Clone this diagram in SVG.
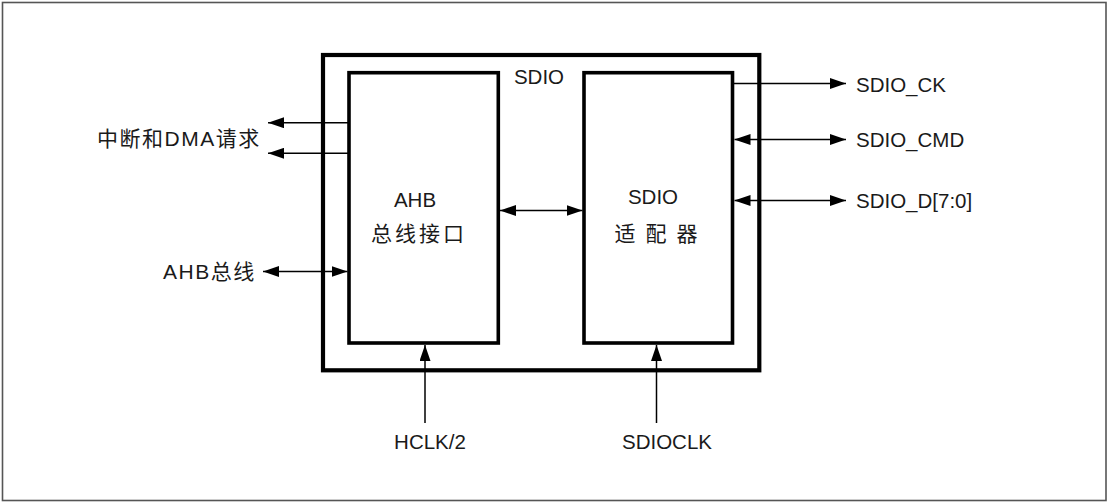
<svg xmlns="http://www.w3.org/2000/svg" width="1109" height="503" viewBox="0 0 1109 503">
<style>
.t{font-family:"Liberation Sans","Noto Sans CJK SC",sans-serif;font-size:20.5px;fill:#1a1a1a}
.c{font-family:"Liberation Sans","Noto Sans CJK SC",sans-serif;font-size:21px;fill:#1a1a1a}
.box{fill:none;stroke:#000;stroke-width:3.6}
.ln{fill:none;stroke:#000;stroke-width:1.5}
</style>
<defs>
<marker id="ah" viewBox="0 0 16 11" refX="16" refY="5.5" markerWidth="16" markerHeight="11" markerUnits="userSpaceOnUse" orient="auto-start-reverse">
<path d="M0,0 L16,5.5 L0,11 z" fill="#000"/>
</marker>
</defs>
<rect x="2.5" y="2.5" width="1103.5" height="498" fill="#fff" stroke="#555" stroke-width="1.6"/>
<g id="sdio">
<rect x="323" y="55" width="436.3" height="315.3" fill="none" stroke="#000" stroke-width="4.2"/>
<text class="t" x="539" y="84" text-anchor="middle">SDIO</text>
</g>
<g id="ahb">
<rect class="box" x="349" y="72.7" width="149.3" height="270.3"/>
<text class="t" x="415" y="207" text-anchor="middle">AHB</text>
<text class="c" x="419" y="241" text-anchor="middle" letter-spacing="3">总线接口</text>
</g>
<g id="adapter">
<rect class="box" x="584" y="72.7" width="148.5" height="270.3"/>
<text class="t" x="653" y="204" text-anchor="middle">SDIO</text>
<text class="c" x="661" y="241" text-anchor="middle" letter-spacing="10">适配器</text>
</g>
<g id="labels">
<text class="c" x="97" y="146" letter-spacing="1.5">中断和DMA请求</text>
<text class="c" x="163" y="279" letter-spacing="1.5">AHB总线</text>
<text class="t" x="856" y="92">SDIO_CK</text>
<text class="t" x="856" y="147">SDIO_CMD</text>
<text class="t" x="856" y="208">SDIO_D[7:0]</text>
<text class="t" x="430" y="449" text-anchor="middle">HCLK/2</text>
<text class="t" x="667" y="449" text-anchor="middle">SDIOCLK</text>
</g>
<g id="connectors">
<path class="ln" d="M348,122.7 L268,122.7" marker-end="url(#ah)"/>
<path class="ln" d="M348,153.3 L268,153.3" marker-end="url(#ah)"/>
<path class="ln" d="M263,271.5 L347.5,271.5" marker-start="url(#ah)" marker-end="url(#ah)"/>
<path class="ln" d="M500,210.5 L582.5,210.5" marker-start="url(#ah)" marker-end="url(#ah)"/>
<path class="ln" d="M734,83.5 L846,83.5" marker-end="url(#ah)"/>
<path class="ln" d="M734.5,139.5 L846,139.5" marker-start="url(#ah)" marker-end="url(#ah)"/>
<path class="ln" d="M734.5,200.5 L846,200.5" marker-start="url(#ah)" marker-end="url(#ah)"/>
<path class="ln" d="M425,423 L425,345" marker-end="url(#ah)"/>
<path class="ln" d="M656.5,423 L656.5,345" marker-end="url(#ah)"/>
</g>
</svg>
